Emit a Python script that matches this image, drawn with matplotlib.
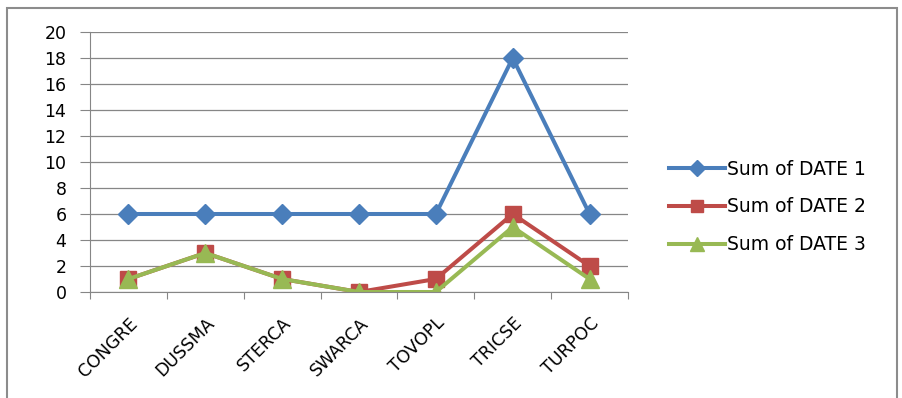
import matplotlib.pyplot as plt
from matplotlib.patches import Rectangle

plt.rcParams['font.family'] = ['DejaVu Sans']

categories = ["CONGRE", "DUSSMA", "STERCA", "SWARCA", "TOVOPL", "TRICSE", "TURPOC"]
date1 = [6, 6, 6, 6, 6, 18, 6]
date2 = [1, 3, 1, 0, 1, 6, 2]
date3 = [1, 3, 1, 0, 0, 5, 1]
names = ["Sum of DATE 1", "Sum of DATE 2", "Sum of DATE 3"]

fig = plt.figure(figsize=(9.02, 3.98), dpi=100)
ax = fig.add_axes([90 / 902, 1 - 292 / 398, 538 / 902, 260 / 398])

# outer chart border
fig.patches.append(Rectangle((7 / 902, -0.05), 890 / 902, 1 - 8 / 398 + 0.05,
                             transform=fig.transFigure, fill=False,
                             edgecolor='#8c8c8c', linewidth=1.5))

x = range(len(categories))
ax.plot(x, date1, color='#4a7ebb', lw=2.9, marker='D', ms=10, label=names[0])
ax.plot(x, date2, color='#be4b48', lw=2.9, marker='s', ms=11, label=names[1])
ax.plot(x, date3, color='#98b954', lw=2.9, marker='^', ms=13, label=names[2])

ax.set_xlim(-0.5, len(categories) - 0.5)
ax.set_ylim(0, 20)
ax.set_yticks(range(0, 21, 2))
ax.set_xticks([i - 0.5 for i in range(len(categories) + 1)], minor=False)
ax.set_xticklabels([])
ax.set_xticks(list(x), minor=True)
ax.set_xticklabels(categories, minor=True, rotation=45, ha='right',
                   rotation_mode='anchor', fontsize=12.5)
ax.tick_params(axis='x', which='minor', length=0, pad=16)
ax.tick_params(axis='x', which='major', length=5, color='#868686', direction='out')
ax.tick_params(axis='y', length=7, color='#868686', labelsize=12.5, pad=10)
ax.grid(axis='y', color='#868686', lw=0.9)
ax.set_axisbelow(True)
for s in ['top', 'right']:
    ax.spines[s].set_visible(False)
for s in ['left', 'bottom']:
    ax.spines[s].set_color('#868686')

fig.legend(loc='center left', bbox_to_anchor=(652 / 902, 1 - 207 / 398),
           frameon=False, fontsize=13.5, handlelength=3.0, handletextpad=0.1,
           labelspacing=1.0, markerscale=0.8)

fig.savefig('out.png', dpi=100)
